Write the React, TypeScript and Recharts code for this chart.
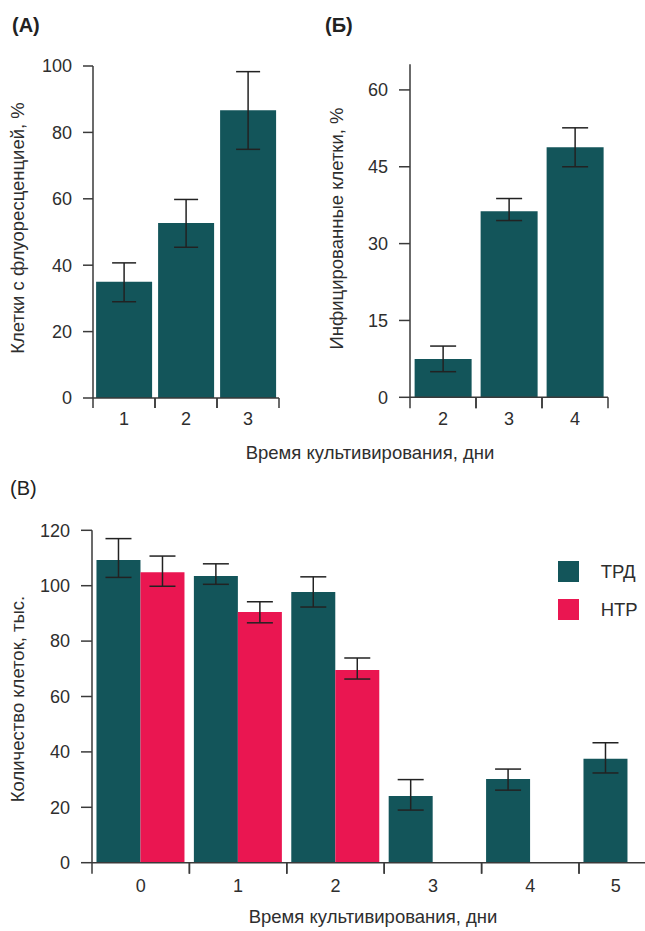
import React from 'react';
import { BarChart, Bar, XAxis, YAxis, ErrorBar, Legend } from 'recharts';

const FONT = '"Liberation Sans", Arial, Helvetica, sans-serif';
const TEXT = '#2e2e2e';
const AXIS = '#3a3a3a';
const TEAL = '#13555a';
const PINK = '#ea1651';
const ERR = '#222222';

// Panel А: клетки с флуоресценцией
const daysA = ['1', '2', '3'];
const fluorescence = [35, 52.7, 86.7];
const fluorescenceErrLow = [6, 7.3, 11.8];
const fluorescenceErrHigh = [5.7, 7.1, 11.6];
const ticksA = [0, 20, 40, 60, 80, 100];

// Panel Б: инфицированные клетки
const daysB = ['2', '3', '4'];
const infected = [7.5, 36.3, 48.8];
const infectedErrLow = [2.5, 1.8, 3.8];
const infectedErrHigh = [2.5, 2.5, 3.8];
const ticksB = [0, 15, 30, 45, 60];

// Panel В: количество клеток
const daysC = ['0', '1', '2', '3', '4', '5'];
const trd = [109.3, 103.5, 97.7, 24.1, 30.2, 37.5];
const trdErrLow = [6.3, 3, 5.4, 5.1, 4, 5.1];
const trdErrHigh = [7.7, 4.4, 5.5, 5.9, 3.6, 5.8];
const htp: (number | null)[] = [104.9, 90.5, 69.6, null, null, null];
const htpErrLow: (number | null)[] = [5.1, 3.9, 3.3, null, null, null];
const htpErrHigh: (number | null)[] = [5.8, 3.7, 4.3, null, null, null];
const ticksC = [0, 20, 40, 60, 80, 100, 120];
const seriesOrder = ['trd', 'htp'];

const dataA = daysA.map((day, i) => ({
  day,
  value: fluorescence[i],
  err: [fluorescenceErrLow[i], fluorescenceErrHigh[i]],
}));
const dataB = daysB.map((day, i) => ({
  day,
  value: infected[i],
  err: [infectedErrLow[i], infectedErrHigh[i]],
}));
const dataC = daysC.map((day, i) => ({
  day,
  trd: trd[i],
  trdErr: [trdErrLow[i], trdErrHigh[i]],
  htp: htp[i],
  htpErr: htp[i] == null ? null : [htpErrLow[i], htpErrHigh[i]],
}));

const TICK_FS = 18;
const TITLE_FS = 18.5;

const boundaryTick =
  (half: number, labelDy: number, tickLen: number, lastIndex = -1, lastShift = 0) =>
  (props: any) => {
    const { x, y, payload, index } = props;
    const dx = index === lastIndex ? lastShift : 0;
    return (
      <g>
        <line x1={x - half} x2={x - half} y1={y} y2={y + tickLen} stroke={AXIS} strokeWidth={1.5} />
        <line x1={x + half} x2={x + half} y1={y} y2={y + tickLen} stroke={AXIS} strokeWidth={1.5} />
        <text x={x + dx} y={y + labelDy} textAnchor="middle" fill={TEXT} fontSize={TICK_FS} fontFamily={FONT}>
          {payload.value}
        </text>
      </g>
    );
  };

const vTitle = (text: string, cx: number, cy: number) => ({
  content: () => (
    <text
      x={cx}
      y={cy}
      transform={`rotate(-90 ${cx} ${cy})`}
      textAnchor="middle"
      dominantBaseline="central"
      fill={TEXT}
      fontSize={TITLE_FS}
      fontFamily={FONT}
    >
      {text}
    </text>
  ),
});

const hTitle = (text: string, cx: number, baseline: number) => ({
  content: () => (
    <text x={cx} y={baseline} textAnchor="middle" fill={TEXT} fontSize={TITLE_FS} fontFamily={FONT}>
      {text}
    </text>
  ),
});

const axisLine = { stroke: AXIS, strokeWidth: 1.5 };
const tickStyle = { fill: TEXT, fontSize: TICK_FS, fontFamily: FONT };

const legendContent = (props: any) => {
  const payload = [...(props.payload || [])].sort(
    (a: any, b: any) => seriesOrder.indexOf(a.dataKey) - seriesOrder.indexOf(b.dataKey)
  );
  return (
    <div style={{ fontFamily: FONT }}>
      {payload.map((p: any, i: number) => (
        <div key={i} style={{ display: 'flex', alignItems: 'center', height: 21, marginBottom: 17 }}>
          <span style={{ display: 'inline-block', width: 21, height: 21, background: p.color, marginRight: 22 }} />
          <span style={{ fontSize: 18.5, color: TEXT, lineHeight: '21px' }}>{p.value}</span>
        </div>
      ))}
    </div>
  );
};

const letterStyle = (left: number, top: number, bold: boolean): React.CSSProperties => ({
  position: 'absolute',
  left,
  top,
  fontFamily: FONT,
  fontSize: 20,
  lineHeight: 1,
  fontWeight: bold ? 'bold' : 'normal',
  color: '#222',
});

export default function App() {
  return (
    <div
      style={{
        position: 'absolute',
        left: 0,
        top: 0,
        width: 645,
        height: 931,
        overflow: 'hidden',
        background: '#fff',
      }}
    >
      {/* Panel А */}
      <div style={{ position: 'absolute', left: 0, top: 0 }}>
        <BarChart
          width={645}
          height={470}
          data={dataA}
          margin={{ top: 66, right: 366, bottom: 32, left: 0 }}
          barCategoryGap="5%"
        >
          <YAxis
            width={93}
            domain={[0, 100]}
            ticks={ticksA}
            interval={0}
            tickSize={10}
            tickMargin={11}
            axisLine={axisLine}
            tickLine={axisLine}
            tick={tickStyle}
            label={vTitle('Клетки с флуоресценцией, %', 17, 228)}
          />
          <XAxis
            dataKey="day"
            height={40}
            tickSize={0}
            tickMargin={0}
            interval={0}
            tickLine={false}
            axisLine={axisLine}
            tick={boundaryTick(31, 27, 10)}
            label={hTitle('Время культивирования, дни', 370, 458.5)}
          />
          <Bar dataKey="value" fill={TEAL} isAnimationActive={false}>
            <ErrorBar dataKey="err" width={12} stroke={ERR} strokeWidth={1.5} direction="y" />
          </Bar>
        </BarChart>
      </div>

      {/* Panel Б */}
      <div style={{ position: 'absolute', left: 320, top: 0 }}>
        <BarChart
          width={325}
          height={470}
          data={dataB}
          margin={{ top: 64.3, right: 37, bottom: 32.7, left: 0 }}
          barCategoryGap="7%"
        >
          <YAxis
            width={90}
            domain={[0, 65]}
            ticks={ticksB}
            interval={0}
            tickSize={11}
            tickMargin={11}
            axisLine={axisLine}
            tickLine={axisLine}
            tick={tickStyle}
            label={vTitle('Инфицированные клетки, %', 16, 228.5)}
          />
          <XAxis
            dataKey="day"
            height={40}
            tickSize={0}
            tickMargin={0}
            interval={0}
            tickLine={false}
            axisLine={axisLine}
            tick={boundaryTick(33, 27.7, 11)}
          />
          <Bar dataKey="value" fill={TEAL} isAnimationActive={false}>
            <ErrorBar dataKey="err" width={13} stroke={ERR} strokeWidth={1.5} direction="y" />
          </Bar>
        </BarChart>
      </div>

      {/* Panel В */}
      <div style={{ position: 'absolute', left: 0, top: 470 }}>
        <BarChart
          width={700}
          height={461}
          data={dataC}
          margin={{ top: 60.3, right: 23.6, bottom: 28.3, left: 0 }}
          barCategoryGap="4.6%"
          barGap={0}
        >
          <YAxis
            width={92}
            domain={[0, 120]}
            ticks={ticksC}
            interval={0}
            tickSize={11}
            tickMargin={11}
            axisLine={axisLine}
            tickLine={axisLine}
            tick={tickStyle}
            label={vTitle('Количество клеток, тыс.', 17, 229)}
          />
          <XAxis
            dataKey="day"
            height={40}
            tickSize={0}
            tickMargin={0}
            interval={0}
            tickLine={false}
            axisLine={axisLine}
            tick={boundaryTick(48.7, 29.5, 11, 5, -12)}
            label={hTitle('Время культивирования, дни', 373, 453)}
          />
          <Legend
            layout="vertical"
            align="center"
            verticalAlign="middle"
            content={legendContent}
            wrapperStyle={{ left: 557.7, top: 91, width: 100, height: 80 }}
          />
          <Bar dataKey="trd" name="ТРД" fill={TEAL} isAnimationActive={false}>
            <ErrorBar dataKey="trdErr" width={13} stroke={ERR} strokeWidth={1.5} direction="y" />
          </Bar>
          <Bar dataKey="htp" name="НТР" fill={PINK} isAnimationActive={false}>
            <ErrorBar dataKey="htpErr" width={13} stroke={ERR} strokeWidth={1.5} direction="y" />
          </Bar>
        </BarChart>
      </div>

      <div style={letterStyle(12, 14.7, true)}>(А)</div>
      <div style={letterStyle(325, 14.7, true)}>(Б)</div>
      <div style={letterStyle(10, 477.5, false)}>(В)</div>
    </div>
  );
}
